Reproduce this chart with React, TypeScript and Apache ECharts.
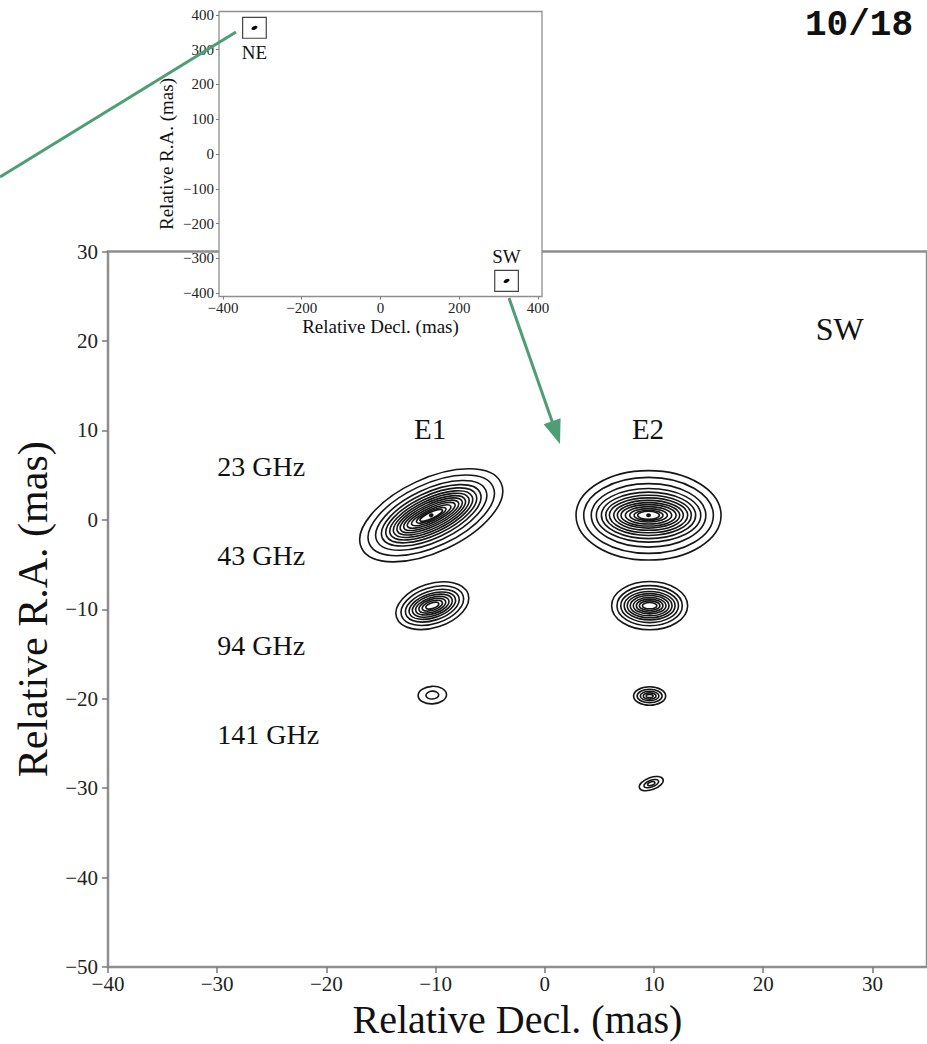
import { useEffect, useRef } from "react";
import * as echarts from "echarts";

const SERIF = '"Liberation Serif", "Times New Roman", serif';
const FRAME = "#8e8e8e";
const INK = "#161616";
const TEXT = "#111111";
const ARROW = "#4d9e74";

// main panel ticks (mas)
const mainXTicks = [-40, -30, -20, -10, 0, 10, 20, 30];
const mainYTicks = [-50, -40, -30, -20, -10, 0, 10, 20, 30];

// inset ticks (mas)
const insetXTicks = [-400, -200, 0, 200, 400];
const insetYTicks = [-400, -300, -200, -100, 0, 100, 200, 300, 400];

// maser spots, one row per feature and band
const spotNames = ["E1 23 GHz", "E2 23 GHz", "E1 43 GHz", "E2 43 GHz", "E1 94 GHz", "E2 94 GHz", "E2 141 GHz"];
const spotX = [-10.4, 9.5, -10.3, 9.6, -10.3, 9.6, 9.75];
const spotY = [0.5, 0.5, -9.6, -9.6, -19.6, -19.7, -29.5];
// outermost contour: semi-major (Decl. mas) and semi-minor (R.A. mas)
const spotMajor = [7.05, 6.64, 3.45, 3.48, 1.3, 1.47, 1.15];
const spotMinor = [4.1, 5.0, 2.45, 2.7, 0.98, 1.03, 0.68];
const spotTiltDeg = [25, 0, 18, 0, 3, 0, 20];
const spotPeakDot = [true, true, false, false, false, false, false];

// contour levels, as fractions of the outermost contour
const levelsMajor = [
  [1, 0.885, 0.78, 0.7, 0.64, 0.585, 0.535, 0.485, 0.44, 0.39, 0.34, 0.28, 0.21, 0.16],
  [1, 0.894, 0.79, 0.72, 0.65, 0.59, 0.54, 0.48, 0.43, 0.38, 0.32, 0.26, 0.2, 0.15],
  [1, 0.86, 0.74, 0.64, 0.55, 0.46, 0.37, 0.28, 0.18],
  [1, 0.86, 0.76, 0.67, 0.59, 0.51, 0.43, 0.35, 0.27, 0.19],
  [1, 0.45],
  [1, 0.78, 0.58, 0.4, 0.22],
  [1, 0.62, 0.3],
];
const levelsMinor = [
  [1, 0.85, 0.72, 0.62, 0.54, 0.47, 0.41, 0.355, 0.3, 0.25, 0.2, 0.155, 0.115, 0.085],
  [1, 0.85, 0.71, 0.6, 0.52, 0.45, 0.39, 0.335, 0.285, 0.24, 0.195, 0.15, 0.115, 0.09],
  [1, 0.82, 0.67, 0.55, 0.46, 0.37, 0.29, 0.21, 0.13],
  [1, 0.83, 0.7, 0.59, 0.5, 0.42, 0.34, 0.27, 0.2, 0.13],
  [1, 0.45],
  [1, 0.74, 0.52, 0.34, 0.18],
  [1, 0.55, 0.3],
];

// region label in the main panel
const regionTagNames = ["SW"];
const regionTagX = [27];
const regionTagY = [21.3];

// feature labels (centred above each column)
const featureNames = ["E1", "E2"];
const featureX = [-10.5, 9.45];
const featureY = [10.1, 10.1];

// band labels (left aligned)
const bandNames = ["23 GHz", "43 GHz", "94 GHz", "141 GHz"];
const bandX = [-30, -30, -30, -30];
const bandY = [6, -4, -14, -24];

// inset: the two maser regions
const regionNames = ["NE", "SW"];
const regionX = [-320, 320];
const regionY = [363, -365];
const regionHalf = [30, 30];
const regionLabelY = [292, -296];

const minus = (v: number) => (v < 0 ? "\u2212" + Math.abs(v) : String(v));

const textSeries = (name: string, names: string[], xs: number[], ys: number[], size: number, align: string) => ({
  type: "scatter",
  name,
  xAxisIndex: 0,
  yAxisIndex: 0,
  symbolSize: 0,
  z: 3,
  silent: true,
  itemStyle: { opacity: 1 },
  data: names.map((n, i) => ({ name: n, value: [xs[i], ys[i]] })),
  label: {
    show: true,
    position: [0, 0],
    formatter: (p: any) => p.name,
    fontFamily: SERIF,
    fontSize: size,
    color: TEXT,
    opacity: 1,
    textBorderWidth: 0,
    align,
    verticalAlign: "middle",
  },
});

export default function App() {
  const ref = useRef<HTMLDivElement>(null);

  useEffect(() => {
    document.body.style.margin = "0";
    if (!ref.current) return;
    const chart = echarts.init(ref.current, null, { renderer: "svg" });

    const spotData = spotNames.map((n, i) => ({
      name: n,
      value: [spotX[i], spotY[i], spotMajor[i], spotMinor[i]],
    }));

    const regionData = regionNames.map((n, i) => ({
      name: n,
      value: [regionX[i], regionY[i], regionHalf[i], regionLabelY[i]],
    }));

    const mainTick = { show: true, length: 6, lineStyle: { color: "#7a7a7a", width: 1.5 } };
    const insetTick = { show: true, length: 3, lineStyle: { color: "#7a7a7a", width: 1 } };
    const hiddenLine = { show: false, onZero: false };

    chart.setOption({
      animation: false,
      backgroundColor: "#ffffff",
      grid: [
        {
          left: 108,
          top: 251.5,
          right: -6,
          bottom: 74.5,
          show: true,
          borderColor: FRAME,
          borderWidth: 2.5,
          backgroundColor: "transparent",
        },
        {
          left: 219,
          top: 11.5,
          width: 323,
          height: 285,
          show: true,
          borderColor: FRAME,
          borderWidth: 1.3,
          backgroundColor: "#ffffff",
          z: 3,
        },
      ],
      xAxis: [
        {
          type: "value",
          gridIndex: 0,
          min: -40,
          max: 35,
          axisLine: hiddenLine,
          splitLine: { show: false },
          axisTick: { ...mainTick, customValues: mainXTicks },
          axisLabel: {
            customValues: mainXTicks,
            formatter: minus,
            fontFamily: SERIF,
            fontSize: 21,
            color: "#222",
            margin: 6,
          },
          name: "Relative Decl. (mas)",
          nameLocation: "middle",
          nameGap: 32,
          nameTextStyle: { fontFamily: SERIF, fontSize: 40, color: TEXT },
        },
        {
          type: "value",
          gridIndex: 1,
          min: -410,
          max: 410,
          z: 4,
          axisLine: hiddenLine,
          splitLine: { show: false },
          axisTick: { ...insetTick, customValues: insetXTicks },
          axisLabel: {
            customValues: insetXTicks,
            formatter: minus,
            fontFamily: SERIF,
            fontSize: 15,
            color: "#222",
            margin: 4,
          },
          name: "Relative Decl. (mas)",
          nameLocation: "middle",
          nameGap: 20,
          nameTextStyle: { fontFamily: SERIF, fontSize: 19, color: TEXT },
        },
      ],
      yAxis: [
        {
          type: "value",
          gridIndex: 0,
          min: -50,
          max: 30,
          axisLine: hiddenLine,
          splitLine: { show: false },
          axisTick: { ...mainTick, customValues: mainYTicks },
          axisLabel: {
            customValues: mainYTicks,
            formatter: minus,
            fontFamily: SERIF,
            fontSize: 21,
            color: "#222",
            margin: 10,
          },
          name: "Relative R.A. (mas)",
          nameLocation: "middle",
          nameGap: 52,
          nameTextStyle: { fontFamily: SERIF, fontSize: 42, color: TEXT },
        },
        {
          type: "value",
          gridIndex: 1,
          min: -410,
          max: 410,
          z: 4,
          axisLine: hiddenLine,
          splitLine: { show: false },
          axisTick: { ...insetTick, customValues: insetYTicks },
          axisLabel: {
            customValues: insetYTicks,
            formatter: minus,
            fontFamily: SERIF,
            fontSize: 15,
            color: "#222",
            margin: 5,
          },
          name: "Relative R.A. (mas)",
          nameLocation: "middle",
          nameGap: 43,
          nameTextStyle: { fontFamily: SERIF, fontSize: 19, color: TEXT },
        },
      ],
      series: [
        {
          type: "custom",
          name: "contours",
          xAxisIndex: 0,
          yAxisIndex: 0,
          clip: false,
          z: 2,
          silent: true,
          data: spotData,
          renderItem: (params: any, api: any) => {
            const i = params.dataIndex;
            const c = api.coord([api.value(0), api.value(1)]);
            const s = api.size([api.value(2), api.value(3)]);
            const children: any[] = levelsMajor[i].map((f, k) => ({
              type: "ellipse",
              shape: { cx: 0, cy: 0, rx: s[0] * f, ry: s[1] * levelsMinor[i][k] },
              style: { fill: "none", stroke: INK, lineWidth: 1.6 },
            }));
            if (spotPeakDot[i]) {
              children.push({
                type: "ellipse",
                shape: { cx: 0, cy: 0, rx: 2.4, ry: 2 },
                style: { fill: "#111" },
              });
            }
            return {
              type: "group",
              x: c[0],
              y: c[1],
              rotation: (spotTiltDeg[i] * Math.PI) / 180,
              children,
            };
          },
        },
        textSeries("regionTag", regionTagNames, regionTagX, regionTagY, 32, "center"),
        textSeries("features", featureNames, featureX, featureY, 29, "center"),
        textSeries("bands", bandNames, bandX, bandY, 28, "left"),
        {
          type: "custom",
          name: "regions",
          xAxisIndex: 1,
          yAxisIndex: 1,
          clip: false,
          z: 6,
          silent: true,
          data: regionData,
          renderItem: (params: any, api: any) => {
            const i = params.dataIndex;
            const x = api.value(0);
            const y = api.value(1);
            const h = api.value(2);
            const p1 = api.coord([x - h, y + h]);
            const p2 = api.coord([x + h, y - h]);
            const c = api.coord([x, y]);
            const t = api.coord([x, api.value(3)]);
            return {
              type: "group",
              children: [
                {
                  type: "rect",
                  shape: { x: p1[0], y: p1[1], width: p2[0] - p1[0], height: p2[1] - p1[1] },
                  style: { fill: "none", stroke: "#444", lineWidth: 1.2 },
                },
                {
                  type: "ellipse",
                  x: c[0],
                  y: c[1],
                  rotation: (25 * Math.PI) / 180,
                  shape: { cx: 0, cy: 0, rx: 3.2, ry: 1.7 },
                  style: { fill: "#000" },
                },
                {
                  type: "text",
                  x: t[0],
                  y: t[1],
                  style: {
                    text: regionNames[i],
                    font: `19px ${SERIF}`,
                    fill: TEXT,
                    align: "center",
                    verticalAlign: "middle",
                  },
                },
              ],
            };
          },
        },
      ],
      graphic: [
        {
          type: "line",
          z: 100,
          shape: { x1: 0, y1: 177, x2: 236, y2: 32 },
          style: { stroke: ARROW, lineWidth: 3 },
        },
        {
          type: "line",
          z: 100,
          shape: { x1: 509, y1: 298, x2: 553, y2: 424 },
          style: { stroke: ARROW, lineWidth: 3 },
        },
        {
          type: "polygon",
          z: 100,
          shape: { points: [[560, 444], [543.6, 424.3], [560.6, 418.3]] },
          style: { fill: ARROW },
        },
        {
          type: "text",
          z: 100,
          x: 913,
          y: 25,
          style: {
            text: "10/18",
            font: 'bold 36px "Liberation Mono", "DejaVu Sans Mono", monospace',
            fill: "#111",
            align: "right",
            verticalAlign: "middle",
          },
        },
      ],
    });

    return () => chart.dispose();
  }, []);

  return <div ref={ref} style={{ width: 927, height: 1044 }} />;
}
